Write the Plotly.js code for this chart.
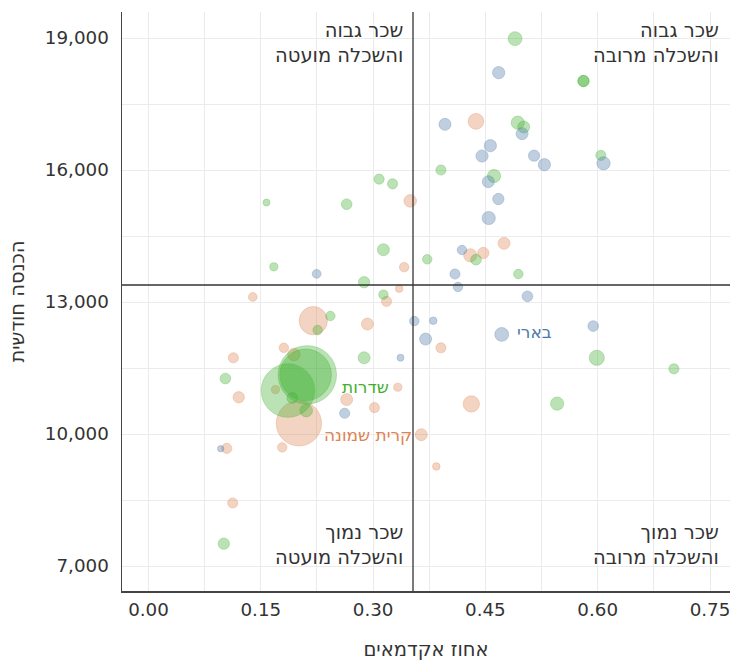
<!DOCTYPE html>
<html><head><meta charset="utf-8">
<script src="https://cdn.plot.ly/plotly-3.0.1.min.js"></script>
<style>html,body{margin:0;padding:0;background:#fff}#chart{width:733px;height:661px}</style>
</head><body><div id="chart"></div>
<script>
// ---- data ----
const xTicks = [0, 0.15, 0.30, 0.45, 0.60, 0.75];
const yTicks = [7000, 10000, 13000, 16000, 19000];
const xTitle = 'אחוז אקדמאים';
const yTitle = 'הכנסה חודשית';
const academicThreshold = 0.3533;
const incomeThreshold = 13386;
const quadrantLabels = ['שכר גבוה<br>והשכלה מועטה', 'שכר גבוה<br>והשכלה מרובה', 'שכר נמוך<br>והשכלה מועטה', 'שכר נמוך<br>והשכלה מרובה'];

const blueAcademic = [0.4677,0.396,0.4566,0.4455,0.499,0.515,0.5288,0.6078,0.4539,0.4673,0.4544,0.4187,0.4093,0.4133,0.2246,0.5061,0.355,0.3803,0.3701,0.4718,0.594,0.3366,0.262,0.0964];
const blueIncome   = [18212,17038,16553,16318,16826,16326,16121,16152,15735,15341,14909,14182,13636,13342,13640,13129,12567,12575,12157,12263,12453,11732,10471,9666];
const bluePop      = [1350,1290,1350,1350,1290,1150,1350,1570,1290,1150,1570,800,920,800,690,1020,800,510,1290,1730,1020,430,920,360];

const greenAcademic = [0.4896,0.581,0.581,0.4932,0.5012,0.6042,0.3906,0.4615,0.308,0.326,0.1576,0.2647,0.3138,0.1674,0.3723,0.4374,0.288,0.494,0.3138,0.2429,0.2259,0.288,0.5988,0.7018,0.1027,0.2121,0.2099,0.1862,0.192,0.2107,0.5458,0.1006];
const greenIncome   = [18985,18023,18023,17076,16977,16333,16000,15864,15792,15685,15260,15222,14188,13800,13970,13962,13450,13636,13167,12681,12362,11732,11732,11481,11261,11344,11344,10987,10820,10532,10691,7508];
const greenPop      = [1730,1150,1150,1570,1290,920,920,1570,920,920,430,1020,1290,600,800,1020,1150,800,800,800,800,1290,2050,920,1020,30750,23940,25720,1020,1420,1570,1150];

const orangeAcademic = [0.4374,0.3496,0.4749,0.4298,0.4472,0.3415,0.3348,0.1393,0.3179,0.2201,0.2924,0.3906,0.1808,0.1942,0.1134,0.1696,0.333,0.1205,0.2647,0.3018,0.2009,0.4312,0.3643,0.1786,0.1045,0.3844,0.1125];
const orangeIncome   = [17106,15298,14333,14061,14114,13792,13304,13114,13015,12575,12499,11959,11959,11808,11732,11010,11063,10835,10782,10600,10243,10684,9985,9696,9673,9263,8432];
const orangePop      = [2230,1420,1290,1570,1150,800,510,690,920,7200,1290,920,800,1420,920,600,600,1150,1290,920,18430,2390,1290,800,920,510,920];

const namedPoints = [
  {name: 'בארי', series: 'blue', index: 19},
  {name: 'שדרות', series: 'green', index: 25},
  {name: 'קרית שמונה', series: 'orange', index: 20}
];

// ---- styles ----
const colors = {blue: [76,120,168], green: [62,176,46], orange: [221,132,82]};
const rgba = (c, a) => `rgba(${c[0]},${c[1]},${c[2]},${a})`;
const FONT = 'DejaVu Sans, sans-serif';
const seriesData = {
  blue: [blueAcademic, blueIncome, bluePop],
  green: [greenAcademic, greenIncome, greenPop],
  orange: [orangeAcademic, orangeIncome, orangePop]
};

const traces = ['orange', 'green', 'blue'].map(k => ({
  type: 'scatter', mode: 'markers',
  x: seriesData[k][0], y: seriesData[k][1],
  marker: {
    size: seriesData[k][2], sizemode: 'area', sizeref: 18,
    color: rgba(colors[k], 0.5),
    line: {color: rgba(colors[k], 0.45), width: 1}
  },
  hoverinfo: 'skip', showlegend: false
}));

const labelOffsets = {'בארי': [13, 2], 'שדרות': [33, -12], 'קרית שמונה': [23, -12]};
const annotations = namedPoints.map(p => ({
  x: seriesData[p.series][0][p.index], y: seriesData[p.series][1][p.index],
  xref: 'x', yref: 'y', text: p.name, showarrow: false,
  xanchor: 'left', yanchor: 'middle',
  xshift: labelOffsets[p.name][0], yshift: labelOffsets[p.name][1],
  font: {family: FONT, size: 17, color: rgba(colors[p.series], 1)}
}));

const qFont = {family: FONT, size: 19.5, color: '#333'};
annotations.push(
  {text: quadrantLabels[0], xref: 'x', x: academicThreshold, yref: 'paper', y: 1, xanchor: 'right', yanchor: 'top', xshift: -8, yshift: -5, align: 'right', showarrow: false, font: qFont},
  {text: quadrantLabels[1], xref: 'paper', x: 1, yref: 'paper', y: 1, xanchor: 'right', yanchor: 'top', xshift: -9, yshift: -5, align: 'right', showarrow: false, font: qFont},
  {text: quadrantLabels[2], xref: 'x', x: academicThreshold, yref: 'paper', y: 0, xanchor: 'right', yanchor: 'bottom', xshift: -8, yshift: 20, align: 'right', showarrow: false, font: qFont},
  {text: quadrantLabels[3], xref: 'paper', x: 1, yref: 'paper', y: 0, xanchor: 'right', yanchor: 'bottom', xshift: -9, yshift: 20, align: 'right', showarrow: false, font: qFont}
);

const tickFont = {family: FONT, size: 18.3, color: '#333'};
const titleFont = {family: FONT, size: 19.5, color: '#333'};
const layout = {
  width: 733, height: 661,
  margin: {l: 122, r: 3, t: 12, b: 70},
  paper_bgcolor: '#fff', plot_bgcolor: '#fff',
  font: {family: FONT, size: 17, color: '#333'},
  xaxis: {
    range: [-0.0354, 0.7767], tickvals: xTicks, tickformat: '.2f',
    showgrid: true, gridcolor: '#ebebeb', gridwidth: 1,
    minor: {dtick: 0.075, tick0: 0, showgrid: true, gridcolor: '#ebebeb', gridwidth: 1},
    showline: true, linecolor: '#444', linewidth: 1.5, zeroline: false,
    ticks: '', ticklabelstandoff: 2,
    tickfont: tickFont,
    title: {text: xTitle, standoff: 24, font: titleFont}
  },
  yaxis: {
    range: [6432, 19591], tickvals: yTicks, tickformat: ',d',
    showgrid: true, gridcolor: '#ebebeb', gridwidth: 1,
    minor: {dtick: 1500, tick0: 7000, showgrid: true, gridcolor: '#ebebeb', gridwidth: 1},
    showline: true, linecolor: '#444', linewidth: 1.5, zeroline: false,
    ticks: '', ticklabelstandoff: 8,
    tickfont: tickFont,
    title: {text: yTitle, standoff: 15, font: titleFont}
  },
  shapes: [
    {type: 'line', xref: 'x', yref: 'paper', x0: academicThreshold, x1: academicThreshold, y0: 0, y1: 1, line: {color: '#333', width: 1.3}},
    {type: 'line', xref: 'paper', yref: 'y', x0: 0, x1: 1, y0: incomeThreshold, y1: incomeThreshold, line: {color: '#333', width: 1.3}}
  ],
  annotations: annotations,
  showlegend: false
};

Plotly.newPlot('chart', traces, layout, {displayModeBar: false, staticPlot: true});
</script>
</body></html>
